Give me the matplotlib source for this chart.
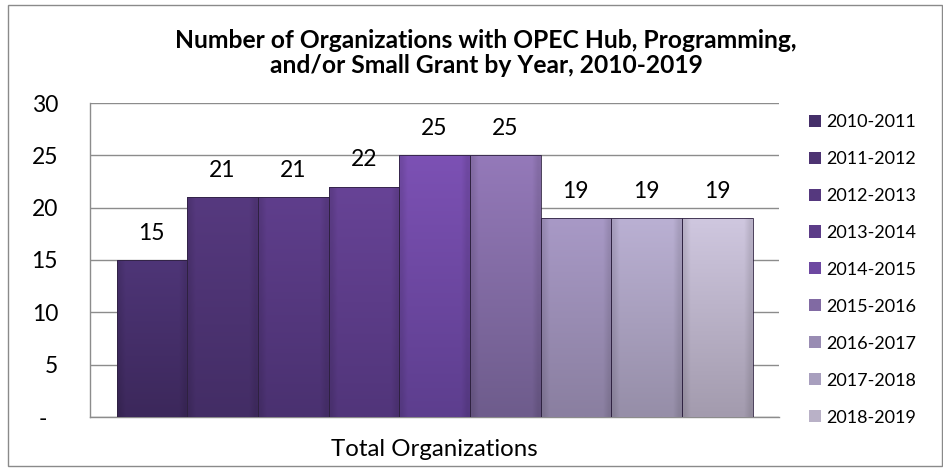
import matplotlib
matplotlib.use("Agg")
import matplotlib.pyplot as plt
import numpy as np
from matplotlib.colors import to_rgb
from matplotlib.patches import Rectangle
from matplotlib.transforms import ScaledTranslation

plt.rcParams['font.family'] = ['Lato', 'DejaVu Sans']

# ---- data ----
title = "Number of Organizations with OPEC Hub, Programming,\nand/or Small Grant by Year, 2010-2019"
category = "Total Organizations"
years = ["2010-2011", "2011-2012", "2012-2013", "2013-2014", "2014-2015",
         "2015-2016", "2016-2017", "2017-2018", "2018-2019"]
values = [15, 21, 21, 22, 25, 25, 19, 19, 19]
y_ticks = [0, 5, 10, 15, 20, 25, 30]
y_tick_labels = ["-", "5", "10", "15", "20", "25", "30"]

# ---- style ----
top_colors = ["#4e3577", "#56397f", "#5f3e8c", "#674396", "#7c51b4",
              "#9479b9", "#a899c6", "#bab0d3", "#cfc7df"]
bottom_colors = ["#3c285b", "#432d65", "#4a3170", "#51357a", "#5d3e8e",
                 "#6e5c8c", "#8a7fa0", "#968ea8", "#a39bae"]
mid_colors = [tuple((np.array(to_rgb(a)) + np.array(to_rgb(b))) / 2)
              for a, b in zip(top_colors, bottom_colors)]

W, H = 943, 468
fig = plt.figure(figsize=(W / 100, H / 100), dpi=100)
ax = fig.add_axes([90 / W, 1 - 417 / H, (779 - 90) / W, (417 - 103) / H])

n = len(values)
group_width = 636 / 689
w = group_width / n
x = (np.arange(n) - (n - 1) / 2) * w

bars = ax.bar(x, values, width=w, color=mid_colors, linewidth=0,
              label=years, zorder=3)

# gradient fill clipped to each bar
for patch, tc, bc in zip(bars.patches, top_colors, bottom_colors):
    x0, y0 = patch.get_x(), patch.get_y()
    bw, bh = patch.get_width(), patch.get_height()
    t = np.linspace(0, 1, 64)[:, None]
    grad = (1 - t) * np.array(to_rgb(bc)) + t * np.array(to_rgb(tc))
    grad = grad[:, None, :].repeat(12, axis=1)
    edge = np.ones(12)
    edge[0] = edge[-1] = 0.9
    grad = grad * edge[None, :, None]
    im = ax.imshow(np.clip(grad, 0, 1), extent=[x0, x0 + bw, y0, y0 + bh],
                   origin='lower', aspect='auto', zorder=3.5,
                   interpolation='bilinear')
    im.set_clip_path(patch)

ax.bar(x, values, width=w, fill=False, edgecolor="#2e2140", linewidth=0.6,
       zorder=4)

for xi, v in zip(x, values):
    ax.annotate(str(v), xy=(xi, v), xytext=(0, 27), textcoords='offset pixels',
                ha='center', va='center', fontsize=16.5, color='black')

ax.set_xlim(-0.5, 0.5)
ax.set_ylim(0, 30)
ax.set_yticks(y_ticks)
ax.set_yticklabels(y_tick_labels)
ax.set_xticks([0])
ax.set_xticklabels([category])
ax.tick_params(axis='y', length=0, pad=23, labelsize=16.5)
ax.tick_params(axis='x', length=0, pad=16, labelsize=17.3)
lab0 = ax.get_yticklabels()[0]
lab0.set_transform(lab0.get_transform() + ScaledTranslation(-0.11, 0, fig.dpi_scale_trans))

ax.yaxis.grid(True, color="#8c8c8c", linewidth=1)
ax.set_axisbelow(True)
for s in ['top', 'right']:
    ax.spines[s].set_visible(False)
for s in ['left', 'bottom']:
    ax.spines[s].set_color("#8c8c8c")
    ax.spines[s].set_linewidth(1)

fig.text(486 / W, 1 - 53 / H, title, ha='center', va='center',
         multialignment='center', fontsize=17.7, fontweight='bold',
         linespacing=1.1)

fig.legend(handles=bars.patches, labels=years, loc='upper left',
           bbox_to_anchor=(809 / W, 1 - 114 / H), frameon=False,
           fontsize=13, handlelength=0.65, handleheight=0.65,
           handletextpad=0.3, labelspacing=1.16, borderpad=0,
           borderaxespad=0)

fig.add_artist(Rectangle((8 / W, 2 / H), (942 - 8) / W, (463 - 2) / H,
                         transform=fig.transFigure, fill=False,
                         edgecolor="#8a8a8a", linewidth=1))

fig.savefig("out.png", dpi=100)
